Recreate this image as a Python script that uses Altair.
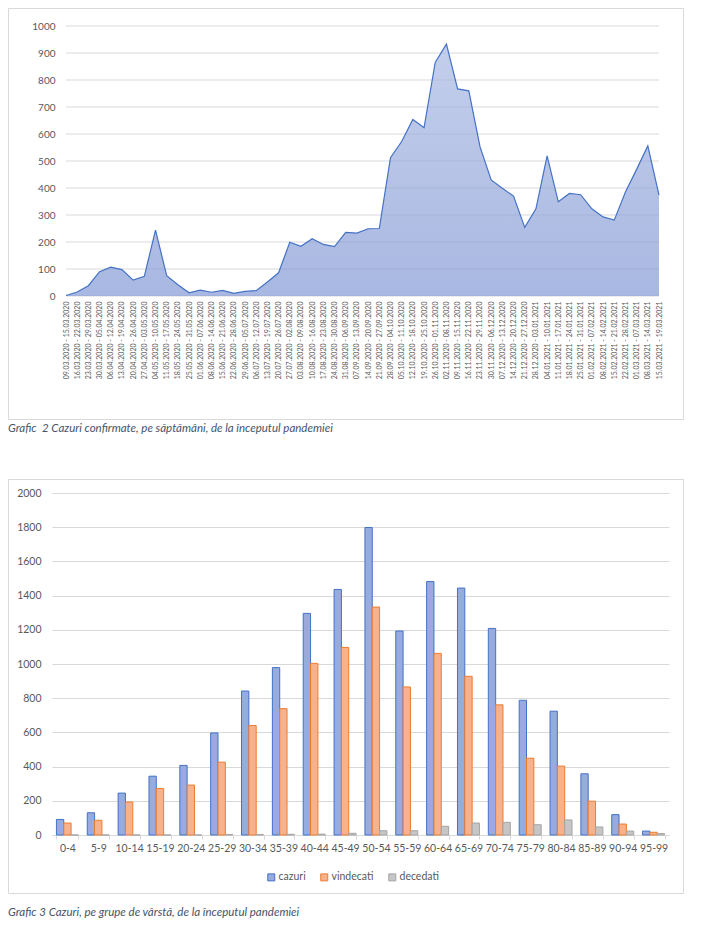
import altair as alt
import pandas as pd

weeks = [
    "09.03.2020 - 15.03.2020", "16.03.2020 - 22.03.2020", "23.03.2020 - 29.03.2020",
    "30.03.2020 - 05.04.2020", "06.04.2020 - 12.04.2020", "13.04.2020 - 19.04.2020",
    "20.04.2020 - 26.04.2020", "27.04.2020 - 03.05.2020", "04.05.2020 - 10.05.2020",
    "11.05.2020 - 17.05.2020", "18.05.2020 - 24.05.2020", "25.05.2020 - 31.05.2020",
    "01.06.2020 - 07.06.2020", "08.06.2020 - 14.06.2020", "15.06.2020 - 21.06.2020",
    "22.06.2020 - 28.06.2020", "29.06.2020 - 05.07.2020", "06.07.2020 - 12.07.2020",
    "13.07.2020 - 19.07.2020", "20.07.2020 - 26.07.2020", "27.07.2020 - 02.08.2020",
    "03.08.2020 - 09.08.2020", "10.08.2020 - 16.08.2020", "17.08.2020 - 23.08.2020",
    "24.08.2020 - 30.08.2020", "31.08.2020 - 06.09.2020", "07.09.2020 - 13.09.2020",
    "14.09.2020 - 20.09.2020", "21.09.2020 - 27.09.2020", "28.09.2020 - 04.10.2020",
    "05.10.2020 - 11.10.2020", "12.10.2020 - 18.10.2020", "19.10.2020 - 25.10.2020",
    "26.10.2020 - 01.11.2020", "02.11.2020 - 08.11.2020", "09.11.2020 - 15.11.2020",
    "16.11.2020 - 22.11.2020", "23.11.2020 - 29.11.2020", "30.11.2020 - 06.12.2020",
    "07.12.2020 - 13.12.2020", "14.12.2020 - 20.12.2020", "21.12.2020 - 27.12.2020",
    "28.12.2020 - 03.01.2021", "04.01.2021 - 10.01.2021", "11.01.2021 - 17.01.2021",
    "18.01.2021 - 24.01.2021", "25.01.2021 - 31.01.2021", "01.02.2021 - 07.02.2021",
    "08.02.2021 - 14.02.2021", "15.02.2021 - 21.02.2021", "22.02.2021 - 28.02.2021",
    "01.03.2021 - 07.03.2021", "08.03.2021 - 14.03.2021", "15.03.2021 - 19.03.2021",
]
cases = [2, 15, 38, 90, 107, 98, 59, 73, 244, 75, 42, 12, 22, 14, 21, 10, 17, 20,
         52, 86, 199, 184, 212, 191, 183, 236, 233, 249, 250, 512, 572, 654, 623,
         865, 933, 767, 760, 553, 430, 399, 370, 254, 323, 519, 349, 380, 375, 323,
         293, 281, 385, 469, 556, 374]
top_ticks = [0, 100, 200, 300, 400, 500, 600, 700, 800, 900, 1000]

age_groups = ["0-4", "5-9", "10-14", "15-19", "20-24", "25-29", "30-34", "35-39",
              "40-44", "45-49", "50-54", "55-59", "60-64", "65-69", "70-74",
              "75-79", "80-84", "85-89", "90-94", "95-99"]
cazuri = [91, 130, 245, 344, 407, 597, 842, 979, 1296, 1436, 1798, 1193, 1482,
          1444, 1208, 788, 724, 358, 119, 23]
vindecati = [70, 86, 193, 272, 292, 426, 640, 739, 1004, 1097, 1333, 866, 1062,
             928, 761, 449, 403, 198, 64, 16]
decedati = [0, 0, 0, 0, 0, 3, 3, 4, 5, 10, 25, 25, 51, 70, 74, 60, 88, 47, 23, 8]
bottom_ticks = [0, 200, 400, 600, 800, 1000, 1200, 1400, 1600, 1800, 2000]

series = ["cazuri", "vindecati", "decedati"]
fills = ["#97ABDE", "#F5B28C", "#C6C6C6"]
strokes = ["#4472C4", "#ED7D31", "#A5A5A5"]

caption_top = "Grafic\u00a0 2 Cazuri confirmate, pe săptămâni, de la începutul pandemiei"
caption_bottom = "Grafic 3 Cazuri, pe grupe de vârstă, de la începutul pandemiei"

FONT = "Lato"
GRID = "#D9D9D9"
LABEL = "#595959"
CAPTION = "#44546A"

# ---------------- top chart ----------------
# plot area shares its left edge with the lower chart; the series itself
# starts 14px further right, as in the reference
TW, TH = 607, 270
X0 = 14
df_top = pd.DataFrame({"week": weeks, "cases": cases})
df_grid_top = pd.DataFrame({"v": top_ticks})

top_y_axis = alt.Axis(title=None, values=top_ticks, format="d",
                      grid=False, domain=False, ticks=False, offset=-X0,
                      labelPadding=11, labelFontSize=10, labelColor=LABEL,
                      labelFont=FONT)
top_y_scale = alt.Scale(domain=[0, 1000], nice=False)

grid_top = alt.Chart(df_grid_top).mark_rule(color=GRID, strokeWidth=1).encode(
    y=alt.Y("v:Q", scale=top_y_scale, axis=top_y_axis),
    x=alt.value(X0), x2=alt.value(TW),
)

area = alt.Chart(df_top).mark_area(
    line={"color": "#4472C4", "strokeWidth": 1.2},
    color=alt.Gradient(
        gradient="linear",
        stops=[alt.GradientStop(color="#ABBAE3", offset=0),
               alt.GradientStop(color="#8399D5", offset=1)],
        x1=0, x2=0, y1=0, y2=1,
    ),
).encode(
    x=alt.X("week:N", sort=weeks,
            scale=alt.Scale(type="point", padding=0, range=[X0, TW]),
            axis=alt.Axis(title=None, labelAngle=270, labelFontSize=7,
                          labelColor=LABEL, labelFont=FONT, labelOverlap=False,
                          ticks=False, domain=False, labelPadding=5,
                          grid=False)),
    y=alt.Y("cases:Q", scale=top_y_scale, axis=top_y_axis),
)

one_top = pd.DataFrame({"t": [caption_top]})
frame_top = alt.Chart(one_top).mark_rect(
    fillOpacity=0, stroke=GRID, strokeWidth=1
).encode(x=alt.value(-43.5), x2=alt.value(631.5),
         y=alt.value(-17.5), y2=alt.value(393.5))
cap_top = alt.Chart(one_top).mark_text(
    align="left", baseline="middle", font=FONT, fontStyle="italic",
    fontSize=11.5, color=CAPTION
).encode(x=alt.value(-44), y=alt.value(403), text="t:N")

top = alt.layer(frame_top, grid_top, area, cap_top).properties(width=TW, height=TH)

# ---------------- bottom chart ----------------
BW, BH = 617, 342
df_bot = pd.DataFrame({
    "group": age_groups * 3,
    "series": ["cazuri"] * len(age_groups) + ["vindecati"] * len(age_groups)
    + ["decedati"] * len(age_groups),
    "value": cazuri + vindecati + decedati,
})

legend = alt.Legend(title=None, orient="none", legendX=214, legendY=379,
                    direction="horizontal", symbolType="square", symbolSize=49,
                    symbolStrokeWidth=1, labelFontSize=10.5, labelColor=LABEL,
                    labelFont=FONT, columnPadding=12, labelOffset=2, padding=0)

bars = alt.Chart(df_bot).mark_bar(strokeWidth=1).encode(
    x=alt.X("group:N", sort=age_groups,
            scale=alt.Scale(paddingInner=0.287, paddingOuter=0.1435),
            axis=alt.Axis(title=None, labelAngle=0, ticks=True,
                          tickBand="extent", tickColor=GRID, tickSize=4,
                          domainColor=GRID, labelPadding=4, labelFontSize=10.5,
                          labelColor=LABEL, labelFont=FONT)),
    xOffset=alt.XOffset("series:N", sort=series,
                        scale=alt.Scale(domain=series, paddingInner=0,
                                        paddingOuter=0)),
    y=alt.Y("value:Q", scale=alt.Scale(domain=[0, 2000], nice=False),
            axis=alt.Axis(title=None, values=bottom_ticks, format="d",
                          grid=True, gridColor=GRID, domain=False, ticks=False,
                          labelPadding=11, labelFontSize=10.5, labelColor=LABEL,
                          labelFont=FONT)),
    color=alt.Color("series:N", sort=series,
                    scale=alt.Scale(domain=series, range=fills), legend=legend),
    stroke=alt.Stroke("series:N", sort=series,
                      scale=alt.Scale(domain=series, range=strokes),
                      legend=legend),
)

one_bot = pd.DataFrame({"t": [caption_bottom]})
frame_bot = alt.Chart(one_bot).mark_rect(
    fillOpacity=0, stroke=GRID, strokeWidth=1
).encode(x=alt.value(-43.5), x2=alt.value(631.5),
         y=alt.value(-13.5), y2=alt.value(400.5))
cap_bot = alt.Chart(one_bot).mark_text(
    align="left", baseline="middle", font=FONT, fontStyle="italic",
    fontSize=11.5, color=CAPTION
).encode(x=alt.value(-44), y=alt.value(420), text="t:N")

bottom = alt.layer(frame_bot, bars, cap_bot).properties(width=BW, height=BH)

chart = alt.concat(top, bottom, columns=1, spacing=44).resolve_legend(
    color="independent", stroke="independent"
).resolve_scale(color="independent", stroke="independent").properties(
    padding=0, background="white"
).configure_view(stroke=None)

chart.save("out.html", embed_options={"renderer": "svg", "actions": False})
